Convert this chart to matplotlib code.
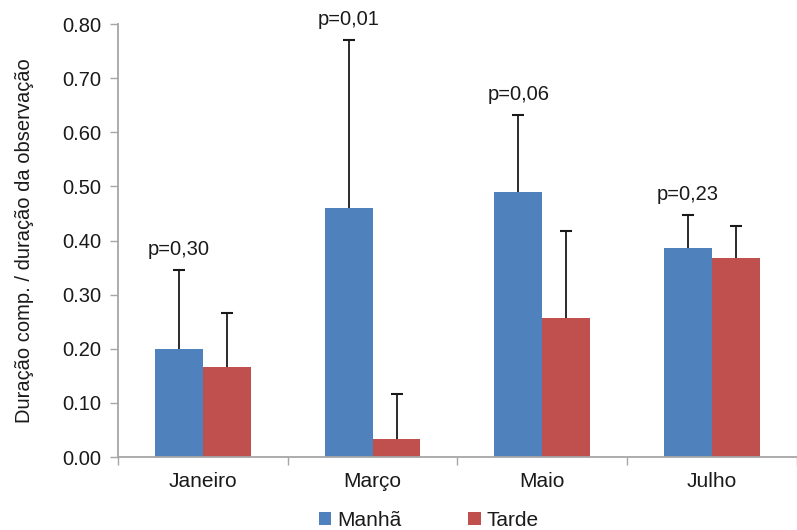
import matplotlib.pyplot as plt
import numpy as np

plt.rcParams["font.family"] = ["Liberation Sans", "DejaVu Sans"]

months = ["Janeiro", "Março", "Maio", "Julho"]
manha = [0.200, 0.460, 0.489, 0.387]
manha_err = [0.146, 0.311, 0.143, 0.060]
tarde = [0.166, 0.033, 0.256, 0.368]
tarde_err = [0.101, 0.084, 0.162, 0.058]
p_labels = ["p=0,30", "p=0,01", "p=0,06", "p=0,23"]

BLUE = "#4F81BD"
RED = "#C0504D"
GREY = "#A6A6A6"
INK = "#1A1A1A"

fig = plt.figure(figsize=(7.97, 5.30), dpi=100)
ax = fig.add_axes([0.148, 0.1377, 0.852, 0.817])

x = np.arange(len(months))
w = 0.282


def bars_up_err(xpos, vals, errs, color, label):
    # bar plus a one-sided (upper) error whisker with a cap only at the top
    vals = np.asarray(vals)
    errs = np.asarray(errs)
    ax.bar(xpos, vals, w, color=color, label=label, zorder=2)
    ax.errorbar(xpos, vals, yerr=[np.zeros_like(errs), errs], fmt="none",
                ecolor=INK, elinewidth=1.3, capsize=0, zorder=3)
    ax.plot(xpos, vals + errs, linestyle="none", marker="_", markersize=9,
            markeredgewidth=1.5, color=INK, zorder=3)


bars_up_err(x - w / 2, manha, manha_err, BLUE, "Manhã")
bars_up_err(x + w / 2, tarde, tarde_err, RED, "Tarde")

for i, lab in enumerate(p_labels):
    top = manha[i] + manha_err[i]
    ax.annotate(lab, (x[i] - w / 2, top), xytext=(0, 8), textcoords="offset points",
                ha="center", va="bottom", fontsize=14.5, color=INK)

ax.set_xlim(-0.5, 3.45)
ax.set_ylim(0, 0.80)
ax.set_yticks(np.arange(0, 0.81, 0.10))
ax.set_yticklabels([f"{v:.2f}" for v in np.arange(0, 0.81, 0.10)])
ax.set_xticks([-0.5, 0.5, 1.5, 2.5, 3.5])
ax.set_xticklabels([])
ax.set_xticks(x, minor=True)
ax.set_xticklabels(months, minor=True)
ax.tick_params(axis="x", which="minor", length=0, pad=11, labelsize=15, labelcolor=INK)
ax.tick_params(axis="x", which="major", length=6, color=GREY, width=1)
ax.tick_params(axis="y", length=6, color=GREY, width=1, labelsize=14.5, pad=6,
               labelcolor=INK)

for s in ["top", "right"]:
    ax.spines[s].set_visible(False)
for s in ["left", "bottom"]:
    ax.spines[s].set_color(GREY)
    ax.spines[s].set_linewidth(1.3)

ax.set_ylabel("Duração comp. / duração da observação", fontsize=14.5, labelpad=20,
              color=INK)

fig.legend(loc="lower center", bbox_to_anchor=(0.538, -0.035), ncol=2, frameon=False,
           fontsize=15, handlelength=0.6, handleheight=0.6, handletextpad=0.3,
           columnspacing=3.2, labelcolor=INK)

fig.savefig("out.png", dpi=100)
